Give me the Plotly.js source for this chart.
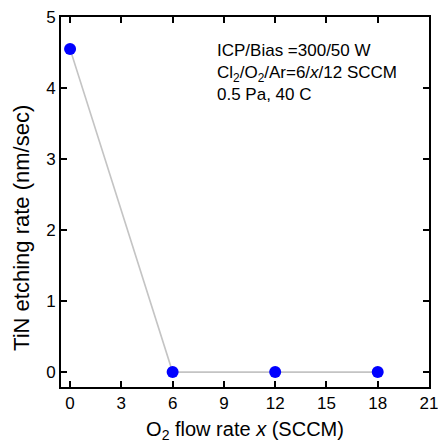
<!DOCTYPE html>
<html><head><meta charset="utf-8">
<script src="https://cdn.plot.ly/plotly-3.0.1.min.js"></script>
<style>body{margin:0;background:#fff}#c{width:438px;height:443px}</style>
</head><body><div id="c"></div>
<script>
const o2Flow = [0, 6, 12, 18];
const etchRate = [4.55, 0, 0, 0];
const xTicks = [0, 3, 6, 9, 12, 15, 18, 21];
const yTicks = [0, 1, 2, 3, 4, 5];
const noteLines = ["ICP/Bias =300/50 W", "Cl<sub>2</sub>/O<sub>2</sub>/Ar=6/<i>x</i>/12 SCCM", "0.5 Pa, 40 C"];
const yTitle = "TiN etching rate (nm/sec)";

const fnt = {family: "Liberation Sans, Arial, sans-serif", color: "#000"};
const trace = {
  x: o2Flow, y: etchRate, type: "scatter", mode: "lines+markers",
  line: {color: "#c4c4c4", width: 1.6},
  marker: {color: "#0000ff", size: 12}
};
const layout = {
  width: 438, height: 443,
  margin: {l: 61, r: 9, t: 17, b: 56},
  paper_bgcolor: "#fff", plot_bgcolor: "#fff",
  showlegend: false,
  xaxis: {
    range: [-0.53, 21], tickvals: xTicks, ticktext: xTicks.map(String),
    ticks: "inside", ticklen: 6, tickwidth: 2, tickcolor: "#000",
    showline: true, linewidth: 2, linecolor: "#000", mirror: "ticks",
    showgrid: false, zeroline: false, ticklabeloverflow: "allow",
    tickfont: Object.assign({size: 17}, fnt),
    title: {text: "O<sub>2</sub> flow rate <i>x</i> (SCCM)", font: Object.assign({size: 20}, fnt), standoff: 12}
  },
  yaxis: {
    range: [-0.21, 5], tickvals: yTicks, ticktext: yTicks.map(String),
    ticks: "inside", ticklen: 6, tickwidth: 2, tickcolor: "#000",
    showline: true, linewidth: 2, linecolor: "#000", mirror: "ticks",
    showgrid: false, zeroline: false,
    tickfont: Object.assign({size: 17}, fnt)
  },
  annotations: [{
    xref: "paper", yref: "paper", x: 0.418, y: 0.94, xanchor: "left", yanchor: "top",
    align: "left", showarrow: false,
    text: noteLines.join("<br>"),
    font: Object.assign({size: 17}, fnt)
  }, {
    xref: "paper", yref: "paper", x: -0.106, y: 0.43, xanchor: "center", yanchor: "middle",
    textangle: -90, showarrow: false, text: yTitle,
    font: Object.assign({size: 22}, fnt)
  }]
};
Plotly.newPlot("c", [trace], layout, {displayModeBar: false, staticPlot: true});
</script></body></html>
